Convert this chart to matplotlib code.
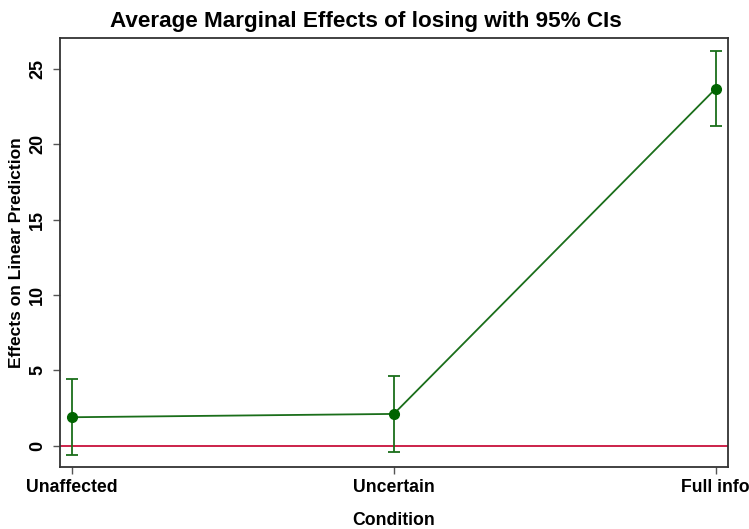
import matplotlib
matplotlib.use("Agg")
import matplotlib.pyplot as plt
import numpy as np

categories = ["Unaffected", "Uncertain", "Full info"]
effects = [1.9, 2.12, 23.7]
ci_low = [-0.6, -0.38, 21.2]
ci_high = [4.42, 4.64, 26.2]
yticks = [0, 5, 10, 15, 20, 25]

plt.rcParams['font.family'] = ['Liberation Sans', 'DejaVu Sans']
plt.rcParams['font.weight'] = 'bold'

fig = plt.figure(figsize=(7.49, 5.29), dpi=100)
ax = fig.add_axes([60/749, 1-467/529, (728-60)/749, (467-38)/529])

x = np.arange(len(categories))
eff = np.array(effects)
yerr = [eff - np.array(ci_low), np.array(ci_high) - eff]

ax.axhline(0, color="#c8103a", lw=1.3, zorder=1)
ax.errorbar(x, eff, yerr=yerr, fmt='none', ecolor="#1a6e1a", elinewidth=1.3,
            capsize=4.5, capthick=1.3, zorder=2)
ax.plot(x, eff, color="#1a6e1a", lw=1.3, zorder=3)
ax.plot(x, eff, 'o', color="#006400", ms=7, zorder=4)

ax.set_xlim(-0.037, 2.038)
ax.set_ylim(-1.4, 27.05)
ax.set_xticks(x)
ax.set_xticklabels(categories, fontsize=12.7, fontweight='bold')
ax.set_yticks(yticks)
ax.set_yticklabels([str(t) for t in yticks], fontsize=13, rotation=90, va='center',
                   fontweight='bold')

for s in ax.spines.values():
    s.set_color("#333333")
    s.set_linewidth(1.3)
ax.tick_params(axis='both', length=5, width=1.0, color="#555555")
ax.tick_params(axis='y', pad=5)
ax.tick_params(axis='x', pad=4)

ax.set_xlabel("Condition", fontsize=12.7, fontweight='bold', labelpad=11)
ax.set_ylabel("Effects on Linear Prediction", fontsize=12.5, fontweight='bold', labelpad=4)
fig.text(365.5/749, 1-27/529, "Average Marginal Effects of losing with 95% CIs",
         fontsize=16.2, fontweight='bold', ha='center', va='baseline')

fig.savefig("out.png", dpi=100)
